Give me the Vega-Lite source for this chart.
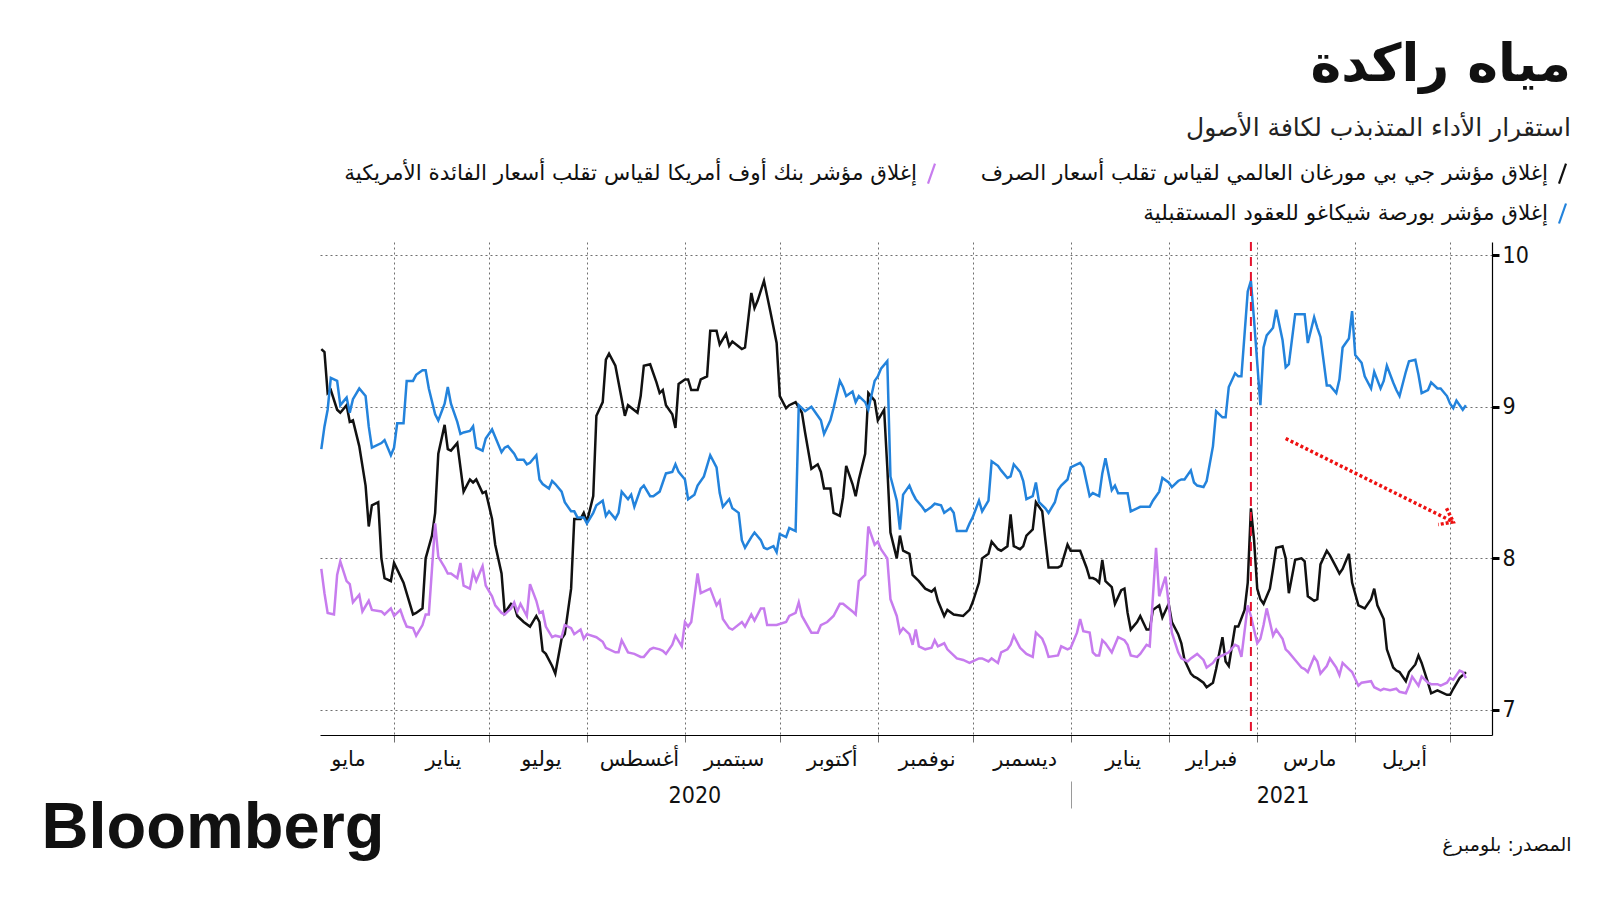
{
"$schema":"https://vega.github.io/schema/vega-lite/v6.json",
"width":1172,"height":493,
"autosize":{"type":"none"},
"padding":{"left":320,"top":242,"right":108,"bottom":165},
"background":"white",
"config":{"view":{"stroke":null},"font":"DejaVu Sans"},
"title":{"text":"مياه راكدة","subtitle":"استقرار الأداء المتذبذب لكافة الأصول","anchor":"end","frame":"group","dx":79,"offset":20,"font":"DejaVu Sans","fontSize":52,"fontWeight":"bold","color":"#111111","subtitleFont":"DejaVu Sans","subtitleFontSize":25,"subtitleColor":"#222222","subtitlePadding":24},
"resolve":{"axis":{"x":"independent"}},
"layer":[
{
"data":{"values":[
{"s":"jpm","d":"2020-05-09","v":9.38},{"s":"jpm","d":"2020-05-10","v":9.36},{"s":"jpm","d":"2020-05-11","v":9.09},{"s":"jpm","d":"2020-05-12","v":9.11},{"s":"jpm","d":"2020-05-14","v":8.98},{"s":"jpm","d":"2020-05-15","v":8.96},{"s":"jpm","d":"2020-05-17","v":9.01},{"s":"jpm","d":"2020-05-18","v":8.90},{"s":"jpm","d":"2020-05-19","v":8.91},{"s":"jpm","d":"2020-05-21","v":8.74},{"s":"jpm","d":"2020-05-23","v":8.48},{"s":"jpm","d":"2020-05-24","v":8.21},{"s":"jpm","d":"2020-05-25","v":8.35},{"s":"jpm","d":"2020-05-27","v":8.37},{"s":"jpm","d":"2020-05-28","v":8.00},{"s":"jpm","d":"2020-05-29","v":7.87},{"s":"jpm","d":"2020-05-31","v":7.85},{"s":"jpm","d":"2020-06-01","v":7.97},{"s":"jpm","d":"2020-06-04","v":7.84},{"s":"jpm","d":"2020-06-07","v":7.63},{"s":"jpm","d":"2020-06-08","v":7.64},{"s":"jpm","d":"2020-06-10","v":7.67},{"s":"jpm","d":"2020-06-11","v":8.00},{"s":"jpm","d":"2020-06-13","v":8.15},{"s":"jpm","d":"2020-06-14","v":8.30},{"s":"jpm","d":"2020-06-15","v":8.69},{"s":"jpm","d":"2020-06-17","v":8.88},{"s":"jpm","d":"2020-06-18","v":8.72},{"s":"jpm","d":"2020-06-19","v":8.71},{"s":"jpm","d":"2020-06-21","v":8.76},{"s":"jpm","d":"2020-06-23","v":8.44},{"s":"jpm","d":"2020-06-25","v":8.52},{"s":"jpm","d":"2020-06-26","v":8.50},{"s":"jpm","d":"2020-06-27","v":8.52},{"s":"jpm","d":"2020-06-29","v":8.43},{"s":"jpm","d":"2020-06-30","v":8.44},{"s":"jpm","d":"2020-07-02","v":8.26},{"s":"jpm","d":"2020-07-03","v":8.09},{"s":"jpm","d":"2020-07-05","v":7.90},{"s":"jpm","d":"2020-07-06","v":7.64},{"s":"jpm","d":"2020-07-08","v":7.70},{"s":"jpm","d":"2020-07-09","v":7.69},{"s":"jpm","d":"2020-07-10","v":7.62},{"s":"jpm","d":"2020-07-12","v":7.58},{"s":"jpm","d":"2020-07-14","v":7.55},{"s":"jpm","d":"2020-07-16","v":7.62},{"s":"jpm","d":"2020-07-17","v":7.58},{"s":"jpm","d":"2020-07-18","v":7.39},{"s":"jpm","d":"2020-07-19","v":7.37},{"s":"jpm","d":"2020-07-21","v":7.29},{"s":"jpm","d":"2020-07-22","v":7.24},{"s":"jpm","d":"2020-07-24","v":7.47},{"s":"jpm","d":"2020-07-25","v":7.50},{"s":"jpm","d":"2020-07-27","v":7.80},{"s":"jpm","d":"2020-07-28","v":8.26},{"s":"jpm","d":"2020-07-30","v":8.26},{"s":"jpm","d":"2020-07-31","v":8.30},{"s":"jpm","d":"2020-08-01","v":8.24},{"s":"jpm","d":"2020-08-03","v":8.41},{"s":"jpm","d":"2020-08-04","v":8.94},{"s":"jpm","d":"2020-08-06","v":9.03},{"s":"jpm","d":"2020-08-07","v":9.31},{"s":"jpm","d":"2020-08-08","v":9.35},{"s":"jpm","d":"2020-08-10","v":9.27},{"s":"jpm","d":"2020-08-13","v":8.94},{"s":"jpm","d":"2020-08-14","v":9.01},{"s":"jpm","d":"2020-08-17","v":8.96},{"s":"jpm","d":"2020-08-18","v":9.07},{"s":"jpm","d":"2020-08-19","v":9.27},{"s":"jpm","d":"2020-08-21","v":9.28},{"s":"jpm","d":"2020-08-23","v":9.16},{"s":"jpm","d":"2020-08-24","v":9.09},{"s":"jpm","d":"2020-08-25","v":9.11},{"s":"jpm","d":"2020-08-26","v":9.01},{"s":"jpm","d":"2020-08-28","v":8.95},{"s":"jpm","d":"2020-08-29","v":8.86},{"s":"jpm","d":"2020-08-30","v":9.15},{"s":"jpm","d":"2020-09-01","v":9.18},{"s":"jpm","d":"2020-09-02","v":9.18},{"s":"jpm","d":"2020-09-03","v":9.11},{"s":"jpm","d":"2020-09-05","v":9.11},{"s":"jpm","d":"2020-09-06","v":9.18},{"s":"jpm","d":"2020-09-08","v":9.20},{"s":"jpm","d":"2020-09-09","v":9.50},{"s":"jpm","d":"2020-09-11","v":9.50},{"s":"jpm","d":"2020-09-12","v":9.41},{"s":"jpm","d":"2020-09-14","v":9.48},{"s":"jpm","d":"2020-09-15","v":9.40},{"s":"jpm","d":"2020-09-16","v":9.43},{"s":"jpm","d":"2020-09-19","v":9.38},{"s":"jpm","d":"2020-09-20","v":9.39},{"s":"jpm","d":"2020-09-22","v":9.75},{"s":"jpm","d":"2020-09-23","v":9.65},{"s":"jpm","d":"2020-09-24","v":9.70},{"s":"jpm","d":"2020-09-26","v":9.83},{"s":"jpm","d":"2020-09-28","v":9.63},{"s":"jpm","d":"2020-09-30","v":9.42},{"s":"jpm","d":"2020-10-01","v":9.07},{"s":"jpm","d":"2020-10-03","v":8.99},{"s":"jpm","d":"2020-10-04","v":9.01},{"s":"jpm","d":"2020-10-06","v":9.03},{"s":"jpm","d":"2020-10-08","v":8.96},{"s":"jpm","d":"2020-10-09","v":8.83},{"s":"jpm","d":"2020-10-11","v":8.59},{"s":"jpm","d":"2020-10-13","v":8.62},{"s":"jpm","d":"2020-10-14","v":8.57},{"s":"jpm","d":"2020-10-15","v":8.46},{"s":"jpm","d":"2020-10-17","v":8.46},{"s":"jpm","d":"2020-10-18","v":8.30},{"s":"jpm","d":"2020-10-20","v":8.28},{"s":"jpm","d":"2020-10-21","v":8.40},{"s":"jpm","d":"2020-10-22","v":8.61},{"s":"jpm","d":"2020-10-24","v":8.49},{"s":"jpm","d":"2020-10-25","v":8.41},{"s":"jpm","d":"2020-10-26","v":8.52},{"s":"jpm","d":"2020-10-28","v":8.69},{"s":"jpm","d":"2020-10-29","v":9.09},{"s":"jpm","d":"2020-10-31","v":9.04},{"s":"jpm","d":"2020-11-01","v":8.91},{"s":"jpm","d":"2020-11-03","v":8.98},{"s":"jpm","d":"2020-11-04","v":8.60},{"s":"jpm","d":"2020-11-05","v":8.17},{"s":"jpm","d":"2020-11-07","v":8.00},{"s":"jpm","d":"2020-11-08","v":8.15},{"s":"jpm","d":"2020-11-09","v":8.05},{"s":"jpm","d":"2020-11-11","v":8.03},{"s":"jpm","d":"2020-11-12","v":7.89},{"s":"jpm","d":"2020-11-14","v":7.85},{"s":"jpm","d":"2020-11-16","v":7.80},{"s":"jpm","d":"2020-11-18","v":7.78},{"s":"jpm","d":"2020-11-19","v":7.80},{"s":"jpm","d":"2020-11-20","v":7.72},{"s":"jpm","d":"2020-11-22","v":7.62},{"s":"jpm","d":"2020-11-23","v":7.66},{"s":"jpm","d":"2020-11-25","v":7.63},{"s":"jpm","d":"2020-11-28","v":7.62},{"s":"jpm","d":"2020-11-30","v":7.66},{"s":"jpm","d":"2020-12-01","v":7.71},{"s":"jpm","d":"2020-12-03","v":7.84},{"s":"jpm","d":"2020-12-04","v":8.00},{"s":"jpm","d":"2020-12-06","v":8.03},{"s":"jpm","d":"2020-12-07","v":8.11},{"s":"jpm","d":"2020-12-09","v":8.06},{"s":"jpm","d":"2020-12-10","v":8.05},{"s":"jpm","d":"2020-12-12","v":8.08},{"s":"jpm","d":"2020-12-13","v":8.29},{"s":"jpm","d":"2020-12-14","v":8.08},{"s":"jpm","d":"2020-12-16","v":8.06},{"s":"jpm","d":"2020-12-17","v":8.08},{"s":"jpm","d":"2020-12-18","v":8.15},{"s":"jpm","d":"2020-12-20","v":8.19},{"s":"jpm","d":"2020-12-21","v":8.37},{"s":"jpm","d":"2020-12-23","v":8.31},{"s":"jpm","d":"2020-12-24","v":8.12},{"s":"jpm","d":"2020-12-25","v":7.94},{"s":"jpm","d":"2020-12-28","v":7.94},{"s":"jpm","d":"2020-12-29","v":7.95},{"s":"jpm","d":"2020-12-31","v":8.09},{"s":"jpm","d":"2021-01-01","v":8.05},{"s":"jpm","d":"2021-01-04","v":8.05},{"s":"jpm","d":"2021-01-06","v":7.94},{"s":"jpm","d":"2021-01-07","v":7.87},{"s":"jpm","d":"2021-01-08","v":7.87},{"s":"jpm","d":"2021-01-09","v":7.86},{"s":"jpm","d":"2021-01-10","v":7.84},{"s":"jpm","d":"2021-01-11","v":7.99},{"s":"jpm","d":"2021-01-12","v":7.85},{"s":"jpm","d":"2021-01-14","v":7.81},{"s":"jpm","d":"2021-01-15","v":7.70},{"s":"jpm","d":"2021-01-17","v":7.79},{"s":"jpm","d":"2021-01-18","v":7.80},{"s":"jpm","d":"2021-01-19","v":7.64},{"s":"jpm","d":"2021-01-20","v":7.53},{"s":"jpm","d":"2021-01-22","v":7.58},{"s":"jpm","d":"2021-01-23","v":7.62},{"s":"jpm","d":"2021-01-25","v":7.53},{"s":"jpm","d":"2021-01-26","v":7.53},{"s":"jpm","d":"2021-01-27","v":7.66},{"s":"jpm","d":"2021-01-29","v":7.69},{"s":"jpm","d":"2021-01-30","v":7.61},{"s":"jpm","d":"2021-02-01","v":7.70},{"s":"jpm","d":"2021-02-02","v":7.58},{"s":"jpm","d":"2021-02-04","v":7.50},{"s":"jpm","d":"2021-02-05","v":7.44},{"s":"jpm","d":"2021-02-06","v":7.33},{"s":"jpm","d":"2021-02-08","v":7.24},{"s":"jpm","d":"2021-02-09","v":7.22},{"s":"jpm","d":"2021-02-10","v":7.21},{"s":"jpm","d":"2021-02-12","v":7.18},{"s":"jpm","d":"2021-02-13","v":7.15},{"s":"jpm","d":"2021-02-15","v":7.18},{"s":"jpm","d":"2021-02-16","v":7.27},{"s":"jpm","d":"2021-02-18","v":7.48},{"s":"jpm","d":"2021-02-19","v":7.32},{"s":"jpm","d":"2021-02-20","v":7.29},{"s":"jpm","d":"2021-02-22","v":7.55},{"s":"jpm","d":"2021-02-23","v":7.55},{"s":"jpm","d":"2021-02-25","v":7.66},{"s":"jpm","d":"2021-02-26","v":7.84},{"s":"jpm","d":"2021-02-27","v":8.33},{"s":"jpm","d":"2021-02-28","v":8.12},{"s":"jpm","d":"2021-03-01","v":7.80},{"s":"jpm","d":"2021-03-02","v":7.73},{"s":"jpm","d":"2021-03-03","v":7.70},{"s":"jpm","d":"2021-03-05","v":7.80},{"s":"jpm","d":"2021-03-06","v":7.93},{"s":"jpm","d":"2021-03-07","v":8.07},{"s":"jpm","d":"2021-03-09","v":8.08},{"s":"jpm","d":"2021-03-10","v":8.00},{"s":"jpm","d":"2021-03-11","v":7.77},{"s":"jpm","d":"2021-03-13","v":7.99},{"s":"jpm","d":"2021-03-15","v":8.00},{"s":"jpm","d":"2021-03-16","v":7.98},{"s":"jpm","d":"2021-03-17","v":7.75},{"s":"jpm","d":"2021-03-19","v":7.72},{"s":"jpm","d":"2021-03-20","v":7.73},{"s":"jpm","d":"2021-03-21","v":7.96},{"s":"jpm","d":"2021-03-23","v":8.05},{"s":"jpm","d":"2021-03-24","v":8.02},{"s":"jpm","d":"2021-03-26","v":7.94},{"s":"jpm","d":"2021-03-27","v":7.90},{"s":"jpm","d":"2021-03-28","v":7.93},{"s":"jpm","d":"2021-03-30","v":8.03},{"s":"jpm","d":"2021-03-31","v":7.84},{"s":"jpm","d":"2021-04-02","v":7.69},{"s":"jpm","d":"2021-04-04","v":7.67},{"s":"jpm","d":"2021-04-06","v":7.73},{"s":"jpm","d":"2021-04-07","v":7.80},{"s":"jpm","d":"2021-04-08","v":7.69},{"s":"jpm","d":"2021-04-10","v":7.60},{"s":"jpm","d":"2021-04-11","v":7.40},{"s":"jpm","d":"2021-04-13","v":7.28},{"s":"jpm","d":"2021-04-14","v":7.26},{"s":"jpm","d":"2021-04-15","v":7.25},{"s":"jpm","d":"2021-04-17","v":7.19},{"s":"jpm","d":"2021-04-18","v":7.25},{"s":"jpm","d":"2021-04-20","v":7.30},{"s":"jpm","d":"2021-04-21","v":7.36},{"s":"jpm","d":"2021-04-22","v":7.31},{"s":"jpm","d":"2021-04-24","v":7.18},{"s":"jpm","d":"2021-04-25","v":7.11},{"s":"jpm","d":"2021-04-27","v":7.13},{"s":"jpm","d":"2021-04-28","v":7.12},{"s":"jpm","d":"2021-04-30","v":7.10},{"s":"jpm","d":"2021-05-01","v":7.10},{"s":"jpm","d":"2021-05-02","v":7.14},{"s":"jpm","d":"2021-05-04","v":7.21},{"s":"jpm","d":"2021-05-05","v":7.23},{"s":"jpm","d":"2021-05-06","v":7.25},
{"s":"cboe","d":"2020-05-09","v":8.72},{"s":"cboe","d":"2020-05-10","v":8.87},{"s":"cboe","d":"2020-05-11","v":8.98},{"s":"cboe","d":"2020-05-12","v":9.19},{"s":"cboe","d":"2020-05-14","v":9.17},{"s":"cboe","d":"2020-05-15","v":9.01},{"s":"cboe","d":"2020-05-17","v":9.06},{"s":"cboe","d":"2020-05-18","v":8.96},{"s":"cboe","d":"2020-05-19","v":9.05},{"s":"cboe","d":"2020-05-21","v":9.12},{"s":"cboe","d":"2020-05-23","v":9.07},{"s":"cboe","d":"2020-05-24","v":8.87},{"s":"cboe","d":"2020-05-25","v":8.73},{"s":"cboe","d":"2020-05-28","v":8.76},{"s":"cboe","d":"2020-05-29","v":8.78},{"s":"cboe","d":"2020-05-31","v":8.68},{"s":"cboe","d":"2020-06-01","v":8.73},{"s":"cboe","d":"2020-06-02","v":8.89},{"s":"cboe","d":"2020-06-04","v":8.89},{"s":"cboe","d":"2020-06-05","v":9.17},{"s":"cboe","d":"2020-06-07","v":9.17},{"s":"cboe","d":"2020-06-08","v":9.21},{"s":"cboe","d":"2020-06-10","v":9.24},{"s":"cboe","d":"2020-06-11","v":9.24},{"s":"cboe","d":"2020-06-12","v":9.12},{"s":"cboe","d":"2020-06-14","v":8.95},{"s":"cboe","d":"2020-06-15","v":8.91},{"s":"cboe","d":"2020-06-17","v":9.02},{"s":"cboe","d":"2020-06-18","v":9.13},{"s":"cboe","d":"2020-06-19","v":9.02},{"s":"cboe","d":"2020-06-21","v":8.90},{"s":"cboe","d":"2020-06-22","v":8.82},{"s":"cboe","d":"2020-06-23","v":8.83},{"s":"cboe","d":"2020-06-25","v":8.84},{"s":"cboe","d":"2020-06-26","v":8.87},{"s":"cboe","d":"2020-06-27","v":8.73},{"s":"cboe","d":"2020-06-29","v":8.71},{"s":"cboe","d":"2020-06-30","v":8.79},{"s":"cboe","d":"2020-07-02","v":8.85},{"s":"cboe","d":"2020-07-03","v":8.80},{"s":"cboe","d":"2020-07-05","v":8.70},{"s":"cboe","d":"2020-07-06","v":8.73},{"s":"cboe","d":"2020-07-07","v":8.74},{"s":"cboe","d":"2020-07-09","v":8.69},{"s":"cboe","d":"2020-07-10","v":8.65},{"s":"cboe","d":"2020-07-12","v":8.65},{"s":"cboe","d":"2020-07-13","v":8.62},{"s":"cboe","d":"2020-07-14","v":8.63},{"s":"cboe","d":"2020-07-16","v":8.68},{"s":"cboe","d":"2020-07-17","v":8.52},{"s":"cboe","d":"2020-07-18","v":8.49},{"s":"cboe","d":"2020-07-20","v":8.46},{"s":"cboe","d":"2020-07-21","v":8.51},{"s":"cboe","d":"2020-07-22","v":8.49},{"s":"cboe","d":"2020-07-24","v":8.44},{"s":"cboe","d":"2020-07-25","v":8.37},{"s":"cboe","d":"2020-07-27","v":8.31},{"s":"cboe","d":"2020-07-28","v":8.31},{"s":"cboe","d":"2020-07-29","v":8.27},{"s":"cboe","d":"2020-07-31","v":8.27},{"s":"cboe","d":"2020-08-01","v":8.23},{"s":"cboe","d":"2020-08-03","v":8.30},{"s":"cboe","d":"2020-08-04","v":8.35},{"s":"cboe","d":"2020-08-06","v":8.38},{"s":"cboe","d":"2020-08-07","v":8.28},{"s":"cboe","d":"2020-08-08","v":8.31},{"s":"cboe","d":"2020-08-10","v":8.26},{"s":"cboe","d":"2020-08-11","v":8.30},{"s":"cboe","d":"2020-08-12","v":8.44},{"s":"cboe","d":"2020-08-14","v":8.39},{"s":"cboe","d":"2020-08-15","v":8.42},{"s":"cboe","d":"2020-08-16","v":8.34},{"s":"cboe","d":"2020-08-18","v":8.46},{"s":"cboe","d":"2020-08-19","v":8.48},{"s":"cboe","d":"2020-08-21","v":8.41},{"s":"cboe","d":"2020-08-22","v":8.41},{"s":"cboe","d":"2020-08-24","v":8.44},{"s":"cboe","d":"2020-08-25","v":8.50},{"s":"cboe","d":"2020-08-26","v":8.56},{"s":"cboe","d":"2020-08-28","v":8.57},{"s":"cboe","d":"2020-08-29","v":8.62},{"s":"cboe","d":"2020-08-30","v":8.57},{"s":"cboe","d":"2020-09-01","v":8.52},{"s":"cboe","d":"2020-09-02","v":8.39},{"s":"cboe","d":"2020-09-04","v":8.42},{"s":"cboe","d":"2020-09-05","v":8.48},{"s":"cboe","d":"2020-09-07","v":8.54},{"s":"cboe","d":"2020-09-09","v":8.68},{"s":"cboe","d":"2020-09-11","v":8.60},{"s":"cboe","d":"2020-09-12","v":8.43},{"s":"cboe","d":"2020-09-13","v":8.34},{"s":"cboe","d":"2020-09-15","v":8.39},{"s":"cboe","d":"2020-09-16","v":8.33},{"s":"cboe","d":"2020-09-18","v":8.30},{"s":"cboe","d":"2020-09-19","v":8.12},{"s":"cboe","d":"2020-09-20","v":8.07},{"s":"cboe","d":"2020-09-22","v":8.14},{"s":"cboe","d":"2020-09-23","v":8.17},{"s":"cboe","d":"2020-09-25","v":8.12},{"s":"cboe","d":"2020-09-26","v":8.07},{"s":"cboe","d":"2020-09-27","v":8.06},{"s":"cboe","d":"2020-09-29","v":8.08},{"s":"cboe","d":"2020-09-30","v":8.04},{"s":"cboe","d":"2020-10-01","v":8.16},{"s":"cboe","d":"2020-10-03","v":8.14},{"s":"cboe","d":"2020-10-04","v":8.20},{"s":"cboe","d":"2020-10-06","v":8.18},{"s":"cboe","d":"2020-10-07","v":9.01},{"s":"cboe","d":"2020-10-09","v":8.97},{"s":"cboe","d":"2020-10-11","v":9.00},{"s":"cboe","d":"2020-10-14","v":8.91},{"s":"cboe","d":"2020-10-15","v":8.82},{"s":"cboe","d":"2020-10-17","v":8.91},{"s":"cboe","d":"2020-10-18","v":8.99},{"s":"cboe","d":"2020-10-20","v":9.17},{"s":"cboe","d":"2020-10-21","v":9.13},{"s":"cboe","d":"2020-10-22","v":9.07},{"s":"cboe","d":"2020-10-24","v":9.10},{"s":"cboe","d":"2020-10-25","v":9.03},{"s":"cboe","d":"2020-10-26","v":9.07},{"s":"cboe","d":"2020-10-28","v":9.03},{"s":"cboe","d":"2020-10-29","v":8.98},{"s":"cboe","d":"2020-10-31","v":9.17},{"s":"cboe","d":"2020-11-01","v":9.20},{"s":"cboe","d":"2020-11-02","v":9.25},{"s":"cboe","d":"2020-11-04","v":9.30},{"s":"cboe","d":"2020-11-05","v":8.54},{"s":"cboe","d":"2020-11-07","v":8.38},{"s":"cboe","d":"2020-11-08","v":8.19},{"s":"cboe","d":"2020-11-09","v":8.42},{"s":"cboe","d":"2020-11-11","v":8.48},{"s":"cboe","d":"2020-11-12","v":8.43},{"s":"cboe","d":"2020-11-13","v":8.39},{"s":"cboe","d":"2020-11-15","v":8.34},{"s":"cboe","d":"2020-11-16","v":8.31},{"s":"cboe","d":"2020-11-18","v":8.34},{"s":"cboe","d":"2020-11-19","v":8.36},{"s":"cboe","d":"2020-11-21","v":8.35},{"s":"cboe","d":"2020-11-22","v":8.30},{"s":"cboe","d":"2020-11-24","v":8.33},{"s":"cboe","d":"2020-11-25","v":8.30},{"s":"cboe","d":"2020-11-26","v":8.18},{"s":"cboe","d":"2020-11-29","v":8.18},{"s":"cboe","d":"2020-11-30","v":8.23},{"s":"cboe","d":"2020-12-01","v":8.27},{"s":"cboe","d":"2020-12-03","v":8.38},{"s":"cboe","d":"2020-12-04","v":8.31},{"s":"cboe","d":"2020-12-06","v":8.38},{"s":"cboe","d":"2020-12-07","v":8.64},{"s":"cboe","d":"2020-12-09","v":8.61},{"s":"cboe","d":"2020-12-10","v":8.58},{"s":"cboe","d":"2020-12-12","v":8.53},{"s":"cboe","d":"2020-12-13","v":8.54},{"s":"cboe","d":"2020-12-14","v":8.62},{"s":"cboe","d":"2020-12-16","v":8.57},{"s":"cboe","d":"2020-12-17","v":8.51},{"s":"cboe","d":"2020-12-18","v":8.39},{"s":"cboe","d":"2020-12-20","v":8.41},{"s":"cboe","d":"2020-12-21","v":8.50},{"s":"cboe","d":"2020-12-22","v":8.37},{"s":"cboe","d":"2020-12-24","v":8.33},{"s":"cboe","d":"2020-12-25","v":8.30},{"s":"cboe","d":"2020-12-27","v":8.37},{"s":"cboe","d":"2020-12-28","v":8.45},{"s":"cboe","d":"2020-12-29","v":8.48},{"s":"cboe","d":"2020-12-31","v":8.52},{"s":"cboe","d":"2021-01-01","v":8.60},{"s":"cboe","d":"2021-01-02","v":8.61},{"s":"cboe","d":"2021-01-04","v":8.63},{"s":"cboe","d":"2021-01-05","v":8.60},{"s":"cboe","d":"2021-01-07","v":8.41},{"s":"cboe","d":"2021-01-08","v":8.43},{"s":"cboe","d":"2021-01-09","v":8.42},{"s":"cboe","d":"2021-01-10","v":8.41},{"s":"cboe","d":"2021-01-11","v":8.56},{"s":"cboe","d":"2021-01-12","v":8.66},{"s":"cboe","d":"2021-01-14","v":8.45},{"s":"cboe","d":"2021-01-15","v":8.48},{"s":"cboe","d":"2021-01-16","v":8.43},{"s":"cboe","d":"2021-01-19","v":8.43},{"s":"cboe","d":"2021-01-20","v":8.31},{"s":"cboe","d":"2021-01-22","v":8.33},{"s":"cboe","d":"2021-01-23","v":8.34},{"s":"cboe","d":"2021-01-26","v":8.34},{"s":"cboe","d":"2021-01-27","v":8.38},{"s":"cboe","d":"2021-01-29","v":8.44},{"s":"cboe","d":"2021-01-30","v":8.53},{"s":"cboe","d":"2021-02-01","v":8.50},{"s":"cboe","d":"2021-02-02","v":8.47},{"s":"cboe","d":"2021-02-04","v":8.51},{"s":"cboe","d":"2021-02-05","v":8.52},{"s":"cboe","d":"2021-02-06","v":8.52},{"s":"cboe","d":"2021-02-08","v":8.58},{"s":"cboe","d":"2021-02-09","v":8.50},{"s":"cboe","d":"2021-02-10","v":8.48},{"s":"cboe","d":"2021-02-12","v":8.47},{"s":"cboe","d":"2021-02-13","v":8.51},{"s":"cboe","d":"2021-02-15","v":8.74},{"s":"cboe","d":"2021-02-16","v":8.97},{"s":"cboe","d":"2021-02-18","v":8.93},{"s":"cboe","d":"2021-02-19","v":8.93},{"s":"cboe","d":"2021-02-20","v":9.13},{"s":"cboe","d":"2021-02-22","v":9.22},{"s":"cboe","d":"2021-02-23","v":9.20},{"s":"cboe","d":"2021-02-24","v":9.20},{"s":"cboe","d":"2021-02-26","v":9.76},{"s":"cboe","d":"2021-02-27","v":9.83},{"s":"cboe","d":"2021-02-28","v":9.57},{"s":"cboe","d":"2021-03-02","v":9.01},{"s":"cboe","d":"2021-03-03","v":9.39},{"s":"cboe","d":"2021-03-04","v":9.47},{"s":"cboe","d":"2021-03-06","v":9.52},{"s":"cboe","d":"2021-03-07","v":9.64},{"s":"cboe","d":"2021-03-09","v":9.44},{"s":"cboe","d":"2021-03-10","v":9.26},{"s":"cboe","d":"2021-03-11","v":9.28},{"s":"cboe","d":"2021-03-13","v":9.61},{"s":"cboe","d":"2021-03-16","v":9.61},{"s":"cboe","d":"2021-03-17","v":9.42},{"s":"cboe","d":"2021-03-19","v":9.59},{"s":"cboe","d":"2021-03-20","v":9.52},{"s":"cboe","d":"2021-03-21","v":9.46},{"s":"cboe","d":"2021-03-23","v":9.14},{"s":"cboe","d":"2021-03-24","v":9.14},{"s":"cboe","d":"2021-03-26","v":9.09},{"s":"cboe","d":"2021-03-27","v":9.18},{"s":"cboe","d":"2021-03-28","v":9.39},{"s":"cboe","d":"2021-03-30","v":9.45},{"s":"cboe","d":"2021-03-31","v":9.63},{"s":"cboe","d":"2021-04-01","v":9.34},{"s":"cboe","d":"2021-04-03","v":9.29},{"s":"cboe","d":"2021-04-04","v":9.20},{"s":"cboe","d":"2021-04-06","v":9.12},{"s":"cboe","d":"2021-04-07","v":9.23},{"s":"cboe","d":"2021-04-09","v":9.12},{"s":"cboe","d":"2021-04-10","v":9.17},{"s":"cboe","d":"2021-04-11","v":9.27},{"s":"cboe","d":"2021-04-13","v":9.16},{"s":"cboe","d":"2021-04-14","v":9.11},{"s":"cboe","d":"2021-04-15","v":9.07},{"s":"cboe","d":"2021-04-17","v":9.23},{"s":"cboe","d":"2021-04-18","v":9.30},{"s":"cboe","d":"2021-04-20","v":9.31},{"s":"cboe","d":"2021-04-21","v":9.21},{"s":"cboe","d":"2021-04-22","v":9.09},{"s":"cboe","d":"2021-04-24","v":9.11},{"s":"cboe","d":"2021-04-25","v":9.16},{"s":"cboe","d":"2021-04-27","v":9.12},{"s":"cboe","d":"2021-04-28","v":9.12},{"s":"cboe","d":"2021-04-30","v":9.07},{"s":"cboe","d":"2021-05-01","v":9.02},{"s":"cboe","d":"2021-05-02","v":8.99},{"s":"cboe","d":"2021-05-03","v":9.04},{"s":"cboe","d":"2021-05-05","v":8.98},{"s":"cboe","d":"2021-05-06","v":9.01},
{"s":"move","d":"2020-05-09","v":7.93},{"s":"move","d":"2020-05-10","v":7.77},{"s":"move","d":"2020-05-11","v":7.64},{"s":"move","d":"2020-05-13","v":7.63},{"s":"move","d":"2020-05-14","v":7.89},{"s":"move","d":"2020-05-15","v":7.98},{"s":"move","d":"2020-05-17","v":7.85},{"s":"move","d":"2020-05-18","v":7.83},{"s":"move","d":"2020-05-19","v":7.71},{"s":"move","d":"2020-05-21","v":7.76},{"s":"move","d":"2020-05-22","v":7.65},{"s":"move","d":"2020-05-24","v":7.72},{"s":"move","d":"2020-05-25","v":7.66},{"s":"move","d":"2020-05-28","v":7.65},{"s":"move","d":"2020-05-29","v":7.63},{"s":"move","d":"2020-05-31","v":7.67},{"s":"move","d":"2020-06-01","v":7.62},{"s":"move","d":"2020-06-03","v":7.66},{"s":"move","d":"2020-06-04","v":7.60},{"s":"move","d":"2020-06-05","v":7.55},{"s":"move","d":"2020-06-07","v":7.54},{"s":"move","d":"2020-06-08","v":7.49},{"s":"move","d":"2020-06-10","v":7.56},{"s":"move","d":"2020-06-11","v":7.63},{"s":"move","d":"2020-06-12","v":7.63},{"s":"move","d":"2020-06-14","v":8.23},{"s":"move","d":"2020-06-15","v":8.01},{"s":"move","d":"2020-06-17","v":7.94},{"s":"move","d":"2020-06-18","v":7.90},{"s":"move","d":"2020-06-19","v":7.90},{"s":"move","d":"2020-06-21","v":7.87},{"s":"move","d":"2020-06-22","v":7.97},{"s":"move","d":"2020-06-23","v":7.82},{"s":"move","d":"2020-06-25","v":7.80},{"s":"move","d":"2020-06-26","v":7.91},{"s":"move","d":"2020-06-27","v":7.85},{"s":"move","d":"2020-06-29","v":7.95},{"s":"move","d":"2020-06-30","v":7.82},{"s":"move","d":"2020-07-02","v":7.75},{"s":"move","d":"2020-07-03","v":7.69},{"s":"move","d":"2020-07-05","v":7.64},{"s":"move","d":"2020-07-06","v":7.63},{"s":"move","d":"2020-07-08","v":7.67},{"s":"move","d":"2020-07-09","v":7.71},{"s":"move","d":"2020-07-10","v":7.65},{"s":"move","d":"2020-07-11","v":7.70},{"s":"move","d":"2020-07-13","v":7.62},{"s":"move","d":"2020-07-14","v":7.83},{"s":"move","d":"2020-07-16","v":7.72},{"s":"move","d":"2020-07-17","v":7.64},{"s":"move","d":"2020-07-18","v":7.65},{"s":"move","d":"2020-07-19","v":7.55},{"s":"move","d":"2020-07-21","v":7.48},{"s":"move","d":"2020-07-22","v":7.49},{"s":"move","d":"2020-07-24","v":7.48},{"s":"move","d":"2020-07-25","v":7.56},{"s":"move","d":"2020-07-27","v":7.54},{"s":"move","d":"2020-07-28","v":7.50},{"s":"move","d":"2020-07-30","v":7.53},{"s":"move","d":"2020-07-31","v":7.47},{"s":"move","d":"2020-08-01","v":7.50},{"s":"move","d":"2020-08-04","v":7.48},{"s":"move","d":"2020-08-06","v":7.45},{"s":"move","d":"2020-08-07","v":7.41},{"s":"move","d":"2020-08-10","v":7.38},{"s":"move","d":"2020-08-11","v":7.38},{"s":"move","d":"2020-08-12","v":7.46},{"s":"move","d":"2020-08-14","v":7.38},{"s":"move","d":"2020-08-16","v":7.37},{"s":"move","d":"2020-08-18","v":7.35},{"s":"move","d":"2020-08-19","v":7.35},{"s":"move","d":"2020-08-21","v":7.40},{"s":"move","d":"2020-08-22","v":7.41},{"s":"move","d":"2020-08-24","v":7.40},{"s":"move","d":"2020-08-25","v":7.39},{"s":"move","d":"2020-08-26","v":7.37},{"s":"move","d":"2020-08-28","v":7.43},{"s":"move","d":"2020-08-29","v":7.49},{"s":"move","d":"2020-08-31","v":7.42},{"s":"move","d":"2020-09-01","v":7.58},{"s":"move","d":"2020-09-02","v":7.55},{"s":"move","d":"2020-09-03","v":7.58},{"s":"move","d":"2020-09-05","v":7.90},{"s":"move","d":"2020-09-06","v":7.77},{"s":"move","d":"2020-09-07","v":7.78},{"s":"move","d":"2020-09-09","v":7.80},{"s":"move","d":"2020-09-11","v":7.69},{"s":"move","d":"2020-09-12","v":7.72},{"s":"move","d":"2020-09-13","v":7.60},{"s":"move","d":"2020-09-15","v":7.54},{"s":"move","d":"2020-09-16","v":7.53},{"s":"move","d":"2020-09-19","v":7.58},{"s":"move","d":"2020-09-20","v":7.55},{"s":"move","d":"2020-09-22","v":7.63},{"s":"move","d":"2020-09-23","v":7.59},{"s":"move","d":"2020-09-25","v":7.67},{"s":"move","d":"2020-09-26","v":7.67},{"s":"move","d":"2020-09-27","v":7.56},{"s":"move","d":"2020-09-30","v":7.56},{"s":"move","d":"2020-10-03","v":7.58},{"s":"move","d":"2020-10-04","v":7.62},{"s":"move","d":"2020-10-06","v":7.64},{"s":"move","d":"2020-10-07","v":7.71},{"s":"move","d":"2020-10-08","v":7.62},{"s":"move","d":"2020-10-11","v":7.51},{"s":"move","d":"2020-10-13","v":7.51},{"s":"move","d":"2020-10-14","v":7.56},{"s":"move","d":"2020-10-16","v":7.58},{"s":"move","d":"2020-10-18","v":7.62},{"s":"move","d":"2020-10-20","v":7.70},{"s":"move","d":"2020-10-21","v":7.70},{"s":"move","d":"2020-10-24","v":7.65},{"s":"move","d":"2020-10-25","v":7.63},{"s":"move","d":"2020-10-26","v":7.85},{"s":"move","d":"2020-10-28","v":7.89},{"s":"move","d":"2020-10-29","v":8.21},{"s":"move","d":"2020-10-31","v":8.09},{"s":"move","d":"2020-11-01","v":8.11},{"s":"move","d":"2020-11-02","v":8.06},{"s":"move","d":"2020-11-04","v":8.00},{"s":"move","d":"2020-11-05","v":7.73},{"s":"move","d":"2020-11-07","v":7.62},{"s":"move","d":"2020-11-08","v":7.51},{"s":"move","d":"2020-11-09","v":7.54},{"s":"move","d":"2020-11-11","v":7.50},{"s":"move","d":"2020-11-12","v":7.43},{"s":"move","d":"2020-11-13","v":7.53},{"s":"move","d":"2020-11-14","v":7.42},{"s":"move","d":"2020-11-16","v":7.40},{"s":"move","d":"2020-11-18","v":7.41},{"s":"move","d":"2020-11-19","v":7.46},{"s":"move","d":"2020-11-20","v":7.42},{"s":"move","d":"2020-11-22","v":7.44},{"s":"move","d":"2020-11-23","v":7.40},{"s":"move","d":"2020-11-25","v":7.36},{"s":"move","d":"2020-11-26","v":7.34},{"s":"move","d":"2020-11-28","v":7.33},{"s":"move","d":"2020-11-30","v":7.31},{"s":"move","d":"2020-12-01","v":7.32},{"s":"move","d":"2020-12-03","v":7.34},{"s":"move","d":"2020-12-04","v":7.34},{"s":"move","d":"2020-12-06","v":7.32},{"s":"move","d":"2020-12-07","v":7.34},{"s":"move","d":"2020-12-09","v":7.31},{"s":"move","d":"2020-12-10","v":7.38},{"s":"move","d":"2020-12-12","v":7.40},{"s":"move","d":"2020-12-13","v":7.43},{"s":"move","d":"2020-12-14","v":7.49},{"s":"move","d":"2020-12-16","v":7.41},{"s":"move","d":"2020-12-17","v":7.39},{"s":"move","d":"2020-12-18","v":7.37},{"s":"move","d":"2020-12-20","v":7.35},{"s":"move","d":"2020-12-21","v":7.51},{"s":"move","d":"2020-12-23","v":7.47},{"s":"move","d":"2020-12-24","v":7.42},{"s":"move","d":"2020-12-25","v":7.35},{"s":"move","d":"2020-12-28","v":7.36},{"s":"move","d":"2020-12-29","v":7.42},{"s":"move","d":"2020-12-31","v":7.40},{"s":"move","d":"2021-01-01","v":7.41},{"s":"move","d":"2021-01-03","v":7.51},{"s":"move","d":"2021-01-04","v":7.60},{"s":"move","d":"2021-01-05","v":7.52},{"s":"move","d":"2021-01-07","v":7.51},{"s":"move","d":"2021-01-08","v":7.38},{"s":"move","d":"2021-01-09","v":7.36},{"s":"move","d":"2021-01-10","v":7.36},{"s":"move","d":"2021-01-11","v":7.46},{"s":"move","d":"2021-01-12","v":7.44},{"s":"move","d":"2021-01-14","v":7.38},{"s":"move","d":"2021-01-15","v":7.43},{"s":"move","d":"2021-01-16","v":7.48},{"s":"move","d":"2021-01-18","v":7.46},{"s":"move","d":"2021-01-19","v":7.43},{"s":"move","d":"2021-01-20","v":7.36},{"s":"move","d":"2021-01-22","v":7.35},{"s":"move","d":"2021-01-23","v":7.37},{"s":"move","d":"2021-01-25","v":7.43},{"s":"move","d":"2021-01-26","v":7.42},{"s":"move","d":"2021-01-28","v":8.07},{"s":"move","d":"2021-01-29","v":7.75},{"s":"move","d":"2021-01-31","v":7.88},{"s":"move","d":"2021-02-01","v":7.70},{"s":"move","d":"2021-02-02","v":7.51},{"s":"move","d":"2021-02-04","v":7.38},{"s":"move","d":"2021-02-05","v":7.34},{"s":"move","d":"2021-02-07","v":7.32},{"s":"move","d":"2021-02-08","v":7.34},{"s":"move","d":"2021-02-10","v":7.37},{"s":"move","d":"2021-02-12","v":7.33},{"s":"move","d":"2021-02-13","v":7.28},{"s":"move","d":"2021-02-15","v":7.31},{"s":"move","d":"2021-02-16","v":7.34},{"s":"move","d":"2021-02-18","v":7.36},{"s":"move","d":"2021-02-19","v":7.37},{"s":"move","d":"2021-02-20","v":7.38},{"s":"move","d":"2021-02-22","v":7.43},{"s":"move","d":"2021-02-23","v":7.42},{"s":"move","d":"2021-02-24","v":7.35},{"s":"move","d":"2021-02-26","v":7.69},{"s":"move","d":"2021-02-27","v":7.62},{"s":"move","d":"2021-03-01","v":7.44},{"s":"move","d":"2021-03-02","v":7.47},{"s":"move","d":"2021-03-03","v":7.56},{"s":"move","d":"2021-03-04","v":7.67},{"s":"move","d":"2021-03-06","v":7.49},{"s":"move","d":"2021-03-07","v":7.53},{"s":"move","d":"2021-03-09","v":7.47},{"s":"move","d":"2021-03-10","v":7.40},{"s":"move","d":"2021-03-11","v":7.38},{"s":"move","d":"2021-03-13","v":7.33},{"s":"move","d":"2021-03-15","v":7.28},{"s":"move","d":"2021-03-16","v":7.27},{"s":"move","d":"2021-03-17","v":7.25},{"s":"move","d":"2021-03-19","v":7.35},{"s":"move","d":"2021-03-20","v":7.32},{"s":"move","d":"2021-03-21","v":7.24},{"s":"move","d":"2021-03-23","v":7.29},{"s":"move","d":"2021-03-24","v":7.34},{"s":"move","d":"2021-03-26","v":7.28},{"s":"move","d":"2021-03-27","v":7.23},{"s":"move","d":"2021-03-28","v":7.31},{"s":"move","d":"2021-03-30","v":7.27},{"s":"move","d":"2021-03-31","v":7.25},{"s":"move","d":"2021-04-02","v":7.16},{"s":"move","d":"2021-04-03","v":7.18},{"s":"move","d":"2021-04-06","v":7.19},{"s":"move","d":"2021-04-07","v":7.15},{"s":"move","d":"2021-04-09","v":7.13},{"s":"move","d":"2021-04-10","v":7.14},{"s":"move","d":"2021-04-12","v":7.13},{"s":"move","d":"2021-04-14","v":7.14},{"s":"move","d":"2021-04-15","v":7.12},{"s":"move","d":"2021-04-17","v":7.11},{"s":"move","d":"2021-04-18","v":7.16},{"s":"move","d":"2021-04-19","v":7.22},{"s":"move","d":"2021-04-21","v":7.16},{"s":"move","d":"2021-04-22","v":7.22},{"s":"move","d":"2021-04-24","v":7.18},{"s":"move","d":"2021-04-25","v":7.17},{"s":"move","d":"2021-04-27","v":7.17},{"s":"move","d":"2021-04-28","v":7.16},{"s":"move","d":"2021-04-30","v":7.18},{"s":"move","d":"2021-05-01","v":7.21},{"s":"move","d":"2021-05-02","v":7.20},{"s":"move","d":"2021-05-04","v":7.26},{"s":"move","d":"2021-05-05","v":7.25},{"s":"move","d":"2021-05-06","v":7.21}
]},
"mark":{"type":"line","strokeWidth":2.5,"interpolate":"linear"},
"encoding":{
"x":{"field":"d","type":"temporal","scale":{"type":"utc","domain":[{"year":2020,"month":5,"date":8,"hours":14,"utc":true},{"year":2021,"month":5,"date":14,"hours":6,"utc":true}]},
"axis":{"orient":"bottom","values":[{"year":2020,"month":6,"date":1,"utc":true},{"year":2020,"month":7,"date":1,"utc":true},{"year":2020,"month":8,"date":1,"utc":true},{"year":2020,"month":9,"date":1,"utc":true},{"year":2020,"month":10,"date":1,"utc":true},{"year":2020,"month":11,"date":1,"utc":true},{"year":2020,"month":12,"date":1,"utc":true},{"year":2021,"month":1,"date":1,"utc":true},{"year":2021,"month":2,"date":1,"utc":true},{"year":2021,"month":3,"date":1,"utc":true},{"year":2021,"month":4,"date":1,"utc":true},{"year":2021,"month":5,"date":1,"utc":true}],
"labelExpr":"['ديسمبر','يناير','فبراير','مارس','أبريل','مايو','يناير','يوليو','أغسطس','سبتمبر','أكتوبر','نوفمبر'][utcmonth(datum.value)]",
"labelOffset":-46,"labelPadding":6,"labelFontSize":21,"labelFont":"DejaVu Sans","labelColor":"#111111","labelFlush":false,"labelOverlap":false,"labelBound":false,
"grid":true,"gridDash":[2,3],"gridColor":"#6f6f6f","gridWidth":1,
"domain":true,"domainColor":"#000000","domainWidth":1.2,
"ticks":true,"tickSize":7,"tickColor":"#6f6f6f","tickWidth":1,
"title":"Bloomberg","titleX":-279,"titleY":112,"titleAlign":"left","titleBaseline":"alphabetic","titleFont":"Liberation Sans","titleFontSize":65,"titleFontWeight":"bold","titleColor":"#111111"}},
"y":{"field":"v","type":"quantitative","scale":{"domain":[6.835,10.086],"nice":false,"zero":false},
"axis":{"orient":"right","values":[7,7.5,8,8.5,9,9.5,10],"format":"d","labelExpr":"datum.value % 1 == 0 ? datum.label : ''","labelFont":"DejaVu Sans Condensed, Roboto","labelFontSize":23,"labelColor":"#111111","labelPadding":3,
"grid":true,"gridDash":[2,3],"gridColor":"#6f6f6f","gridOpacity":{"condition":{"test":"datum.value % 1 != 0","value":0},"value":1},
"domain":true,"domainColor":"#000000","domainWidth":1.2,"tickColor":"#000000","tickSize":7,"tickWidth":{"condition":{"test":"datum.value % 1 != 0","value":1},"value":3},"title":null}},
"color":{"field":"s","type":"nominal","scale":{"domain":["move","jpm"," ","cboe"],"range":["#c77cee","#111111","rgba(0,0,0,0)","#2383dc"]},
"legend":{"orient":"none","legendX":600,"legendY":-80,"direction":"horizontal","columns":2,"title":null,"padding":0,
"symbolType":"M -0.35 1 L 0.35 -1","symbolSize":400,"symbolStrokeWidth":2.2,
"labelAlign":"right","labelOffset":-26,"labelFontSize":21.5,"labelFont":"DejaVu Sans","labelColor":"#111111","labelLimit":900,"columnPadding":40,"rowPadding":11,
"labelExpr":"datum.value == 'jpm' ? 'إغلاق مؤشر جي بي مورغان العالمي لقياس تقلب أسعار الصرف' : datum.value == 'move' ? 'إغلاق مؤشر بنك أوف أمريكا لقياس تقلب أسعار الفائدة الأمريكية' : datum.value == 'cboe' ? 'إغلاق مؤشر بورصة شيكاغو للعقود المستقبلية' : ''"}}
}
},
{
"data":{"values":[{"d":"2021-02-27"}]},
"mark":{"type":"rule","color":"#e5132f","strokeWidth":2,"strokeDash":[9,6]},
"encoding":{
"x":{"field":"d","type":"temporal","scale":{"type":"utc","domain":[{"year":2020,"month":5,"date":8,"hours":14,"utc":true},{"year":2021,"month":5,"date":14,"hours":6,"utc":true}]},
"axis":{"orient":"bottom","offset":46,"values":[{"year":2020,"month":9,"date":4,"utc":true},{"year":2021,"month":1,"date":1,"utc":true},{"year":2021,"month":3,"date":9,"utc":true}],
"labelExpr":"(utcmonth(datum.value) == 0 && utcdate(datum.value) == 1) ? '' : '' + utcyear(datum.value)",
"labelFont":"DejaVu Sans Condensed, Roboto","labelFontSize":23,"labelColor":"#111111","labelPadding":-24,"labelFlush":false,"labelOverlap":false,"labelBound":false,"labelBaseline":"top",
"grid":false,"domain":false,"ticks":true,"tickSize":27,"tickColor":"#9a9a9a","tickWidth":1,
"tickOpacity":{"condition":{"test":"utcmonth(datum.value) == 0 && utcdate(datum.value) == 1","value":1},"value":0},
"title":"المصدر: بلومبرغ","titleX":1251,"titleY":69,"titleAlign":"right","titleBaseline":"alphabetic","titleFont":"DejaVu Sans","titleFontSize":19,"titleFontWeight":"normal","titleColor":"#111111"}}
}
},
{
"data":{"values":[{"d":"2021-03-10","v":8.79},{"d":"2021-05-02","v":8.24}]},
"mark":{"type":"line","color":"#ee1111","strokeWidth":3.5,"strokeDash":[3,2.5]},
"encoding":{
"x":{"field":"d","type":"temporal","scale":{"type":"utc","domain":[{"year":2020,"month":5,"date":8,"hours":14,"utc":true},{"year":2021,"month":5,"date":14,"hours":6,"utc":true}]},"axis":null},
"y":{"field":"v","type":"quantitative"}
}
},
{
"data":{"values":[{"d":"2021-05-02","v":8.24}]},
"mark":{"type":"point","shape":"M -1 -0.75 L 0 0 L -1 0.75","size":600,"filled":false,"stroke":"#ee1111","strokeWidth":3.5,"strokeDash":[3,2],"opacity":1,"angle":27},
"encoding":{
"x":{"field":"d","type":"temporal","scale":{"type":"utc","domain":[{"year":2020,"month":5,"date":8,"hours":14,"utc":true},{"year":2021,"month":5,"date":14,"hours":6,"utc":true}]},"axis":null},
"y":{"field":"v","type":"quantitative"}
}
}
]
}
